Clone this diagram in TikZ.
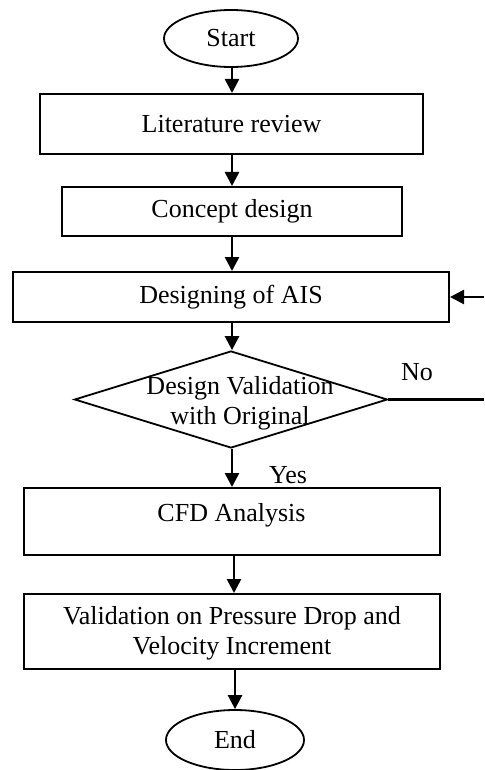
\documentclass[tikz,border=0pt]{standalone}
\usepackage{fontspec}
\setmainfont{Liberation Serif}
\usetikzlibrary{shapes.geometric,arrows.meta}
\begin{document}
\begin{tikzpicture}[x=1pt,y=-1pt,
  font=\fontsize{26}{30}\selectfont,
  box/.style={draw, line width=2pt, rectangle, inner sep=0pt, align=center},
  oval/.style={draw, line width=1.8pt, ellipse, inner sep=0pt},
  dia/.style={draw, line width=1.8pt, diamond, inner sep=0pt},
  arr/.style={line width=2.6pt, -{Triangle[length=14pt,width=14pt]}},
  plain/.style={line width=2.6pt},
  txt/.style={inner sep=0pt, align=center}]
\useasboundingbox (0,0) rectangle (484,770);
\node[oval, minimum width=134pt, minimum height=57pt] (start) at (231,38.5) {Start};
\node[box, minimum width=383pt, minimum height=60pt] (lit) at (231.5,124) {Literature review};
\node[box, minimum width=340pt, minimum height=49pt] (con) at (232,211.5) {Concept design};
\node[box, minimum width=436pt, minimum height=50pt] (ais) at (231,297) {Designing of AIS};
\node[dia, minimum width=313pt, minimum height=97pt] (val) at (231,399.5) {};
\node[txt] (valtxt) at (240,403) {Design Validation\\with Original};
\node[box, minimum width=416pt, minimum height=67pt] (cfd) at (232,521.5) {};
\node[txt] (cfdtxt) at (231.5,515) {CFD Analysis};
\node[box, minimum width=416pt, minimum height=75pt] (vpd) at (232,631.5) {};
\node[txt] (vpdtxt) at (232,633) {Validation on Pressure Drop and\\Velocity Increment};
\node[oval, minimum width=138pt, minimum height=60pt] (end) at (235,740) {End};
\node[txt] (no) at (417,372) {No};
\node[txt] (yes) at (288,475) {Yes};
\coordinate (fbin) at (484,297);
\coordinate (fbout) at (484,399.5);
\draw[arr] (start.south -| 232,0) -- (lit.north -| 232,0);
\draw[arr] (lit.south -| 232,0) -- (con.north -| 232,0);
\draw[arr] (con.south -| 232,0) -- (ais.north -| 232,0);
\draw[arr] (ais.south -| 232,0) -- (val.north -| 232,0);
\draw[arr] (val.south -| 232,0) -- (cfd.north -| 232,0);
\draw[arr] (cfd.south -| 234,0) -- (vpd.north -| 234,0);
\draw[arr] (vpd.south -| 235,0) -- (end.north -| 235,0);
\draw[plain] (val.east) -- (fbout);
\draw[arr] (fbin) -- (ais.east);
\end{tikzpicture}
\end{document}
